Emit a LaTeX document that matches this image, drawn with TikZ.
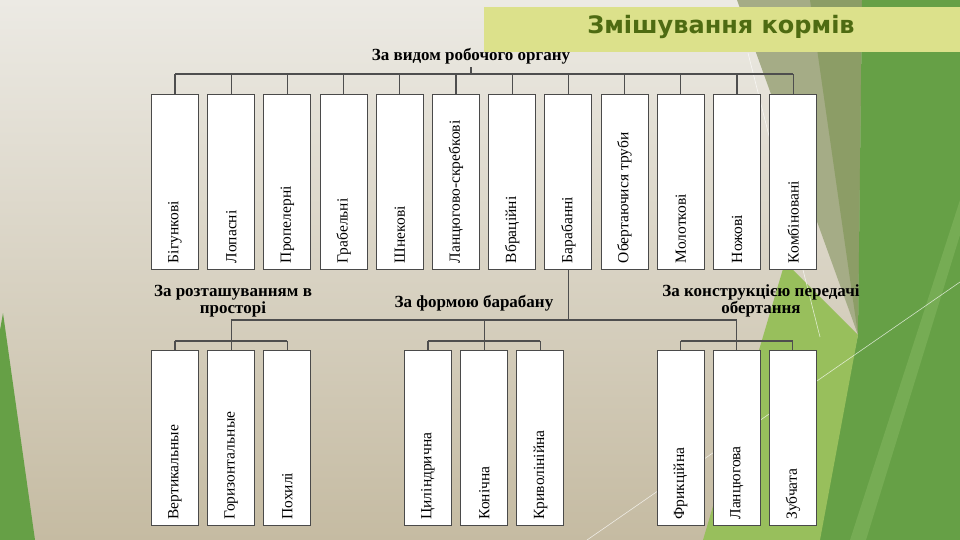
\documentclass[tikz,border=0pt]{standalone}
\usepackage{fontspec}
\usepackage{graphicx}
\setmainfont{Liberation Serif}
\newfontfamily\titlefont{DejaVu Sans}
\usetikzlibrary{positioning}
\definecolor{bgtop}{HTML}{ECEAE4}
\definecolor{bgbottom}{HTML}{C5BBA2}
\definecolor{olivelight}{HTML}{A5AC86}
\definecolor{olivedark}{HTML}{8C9D66}
\definecolor{leafgreen}{HTML}{66A046}
\definecolor{lightleaf}{HTML}{98BF5C}
\definecolor{stripegreen}{HTML}{82B45E}
\definecolor{titlebar}{HTML}{DCE18B}
\definecolor{titleink}{HTML}{4E6B12}
\definecolor{boxline}{HTML}{4A4A4A}
\definecolor{treeline}{HTML}{4E4E4E}
\tikzset{
    kind/.style={draw=boxline, fill=white, line width=0.9pt, minimum width=47pt, minimum height=175pt, inner sep=0pt, font=\fontsize{15.5}{17}\selectfont},
    group/.style={font=\bfseries\fontsize{17}{17}\selectfont, align=center},
    tree/.style={draw=treeline, line width=1.1pt},
    ray/.style={draw=white, opacity=0.7, line width=0.6pt}
}
\newcommand{\vlabel}[1]{\rotatebox{90}{\makebox[163pt][l]{#1}}}

\begin{document}
\begin{tikzpicture}[x=1pt, y=-1pt, node distance=8.3pt]
% background
\useasboundingbox (0,0) rectangle (960,540);
\shade[top color=bgtop, bottom color=bgbottom] (0,0) rectangle (960,540);
\fill[olivelight] (737,0) -- (862,0) -- (858,335) -- cycle;
\fill[olivedark] (810,0) -- (862,0) -- (858,335) -- cycle;
\fill[leafgreen] (862,0) -- (960,0) -- (960,540) -- (815,540) -- (858,335) -- cycle;
\fill[stripegreen, opacity=0.6] (960,200) -- (960,235) -- (866,540) -- (850,540) -- cycle;
\fill[lightleaf] (785,262) -- (858,335) -- (820,540) -- (703,540) -- cycle;
\fill[leafgreen] (0,330) -- (3,313) -- (35,540) -- (0,540) -- cycle;
\draw[ray] (748,53) -- (820,337);
\draw[ray] (587,540) -- (960,282);

% title
\fill[titlebar] (484,7) rectangle (960,52);
\node[font=\titlefont\bfseries\fontsize{24}{26}\selectfont, text=titleink] (title) at (721,27) {Змішування кормів};

% kinds of working body
\node[group] (hdr) at (471,56) {За видом робочого органу};
\node[kind] (b1) at (175,181.5) {\vlabel{Бігункові}};
\node[kind, right=of b1] (b2) {\vlabel{Лопасні}};
\node[kind, right=of b2] (b3) {\vlabel{Пропелерні}};
\node[kind, right=of b3] (b4) {\vlabel{Грабельні}};
\node[kind, right=of b4] (b5) {\vlabel{Шнекові}};
\node[kind, right=of b5] (b6) {\vlabel{Ланцюгово-скребкові}};
\node[kind, right=of b6] (b7) {\vlabel{Вбраційні}};
\node[kind, right=of b7] (b8) {\vlabel{Барабанні}};
\node[kind, right=of b8] (b9) {\vlabel{Обертаючися труби}};
\node[kind, right=of b9] (b10) {\vlabel{Молоткові}};
\node[kind, right=of b10] (b11) {\vlabel{Ножові}};
\node[kind, right=of b11] (b12) {\vlabel{Комбіновані}};

\coordinate (topbus) at (471,74);
\draw[tree] (hdr.south) -- (topbus);
\draw[tree] (b1.north |- topbus) -- (b12.north |- topbus);
\foreach \i in {1,...,12}
    \draw[tree] (b\i.north) -- (b\i.north |- topbus);

% drum sub-classes
\node[group] (place) at (233,301) {За розташуванням в\\просторі};
\node[group] (shape) at (474,303) {За формою барабану};
\node[group] (drive) at (761,301) {За конструкцією передачі\\обертання};

\node[kind] (v1) at (175,438) {\vlabel{Вертикальные}};
\node[kind, right=of v1] (v2) {\vlabel{Горизонтальные}};
\node[kind, right=of v2] (v3) {\vlabel{Похилі}};
\node[kind] (f1) at (428,438) {\vlabel{Циліндрична}};
\node[kind, right=of f1] (f2) {\vlabel{Конічна}};
\node[kind, right=of f2] (f3) {\vlabel{Криволінійна}};
\node[kind] (t1) at (680.5,438) {\vlabel{Фрикційна}};
\node[kind, right=of t1] (t2) {\vlabel{Ланцюгова}};
\node[kind, right=of t2] (t3) {\vlabel{Зубчата}};

\coordinate (midbus) at (0,320);
\coordinate (subbus) at (0,341);
\draw[tree] (b8.south) -- (b8.south |- midbus);
\draw[tree] (v2.north |- midbus) -- (t2.north |- midbus);
\foreach \g in {v,f,t} {
    \draw[tree] (\g2.north |- midbus) -- (\g2.north |- subbus);
    \draw[tree] (\g1.north |- subbus) -- (\g3.north |- subbus);
    \foreach \i in {1,2,3}
        \draw[tree] (\g\i.north) -- (\g\i.north |- subbus);
}
\end{tikzpicture}
\end{document}
